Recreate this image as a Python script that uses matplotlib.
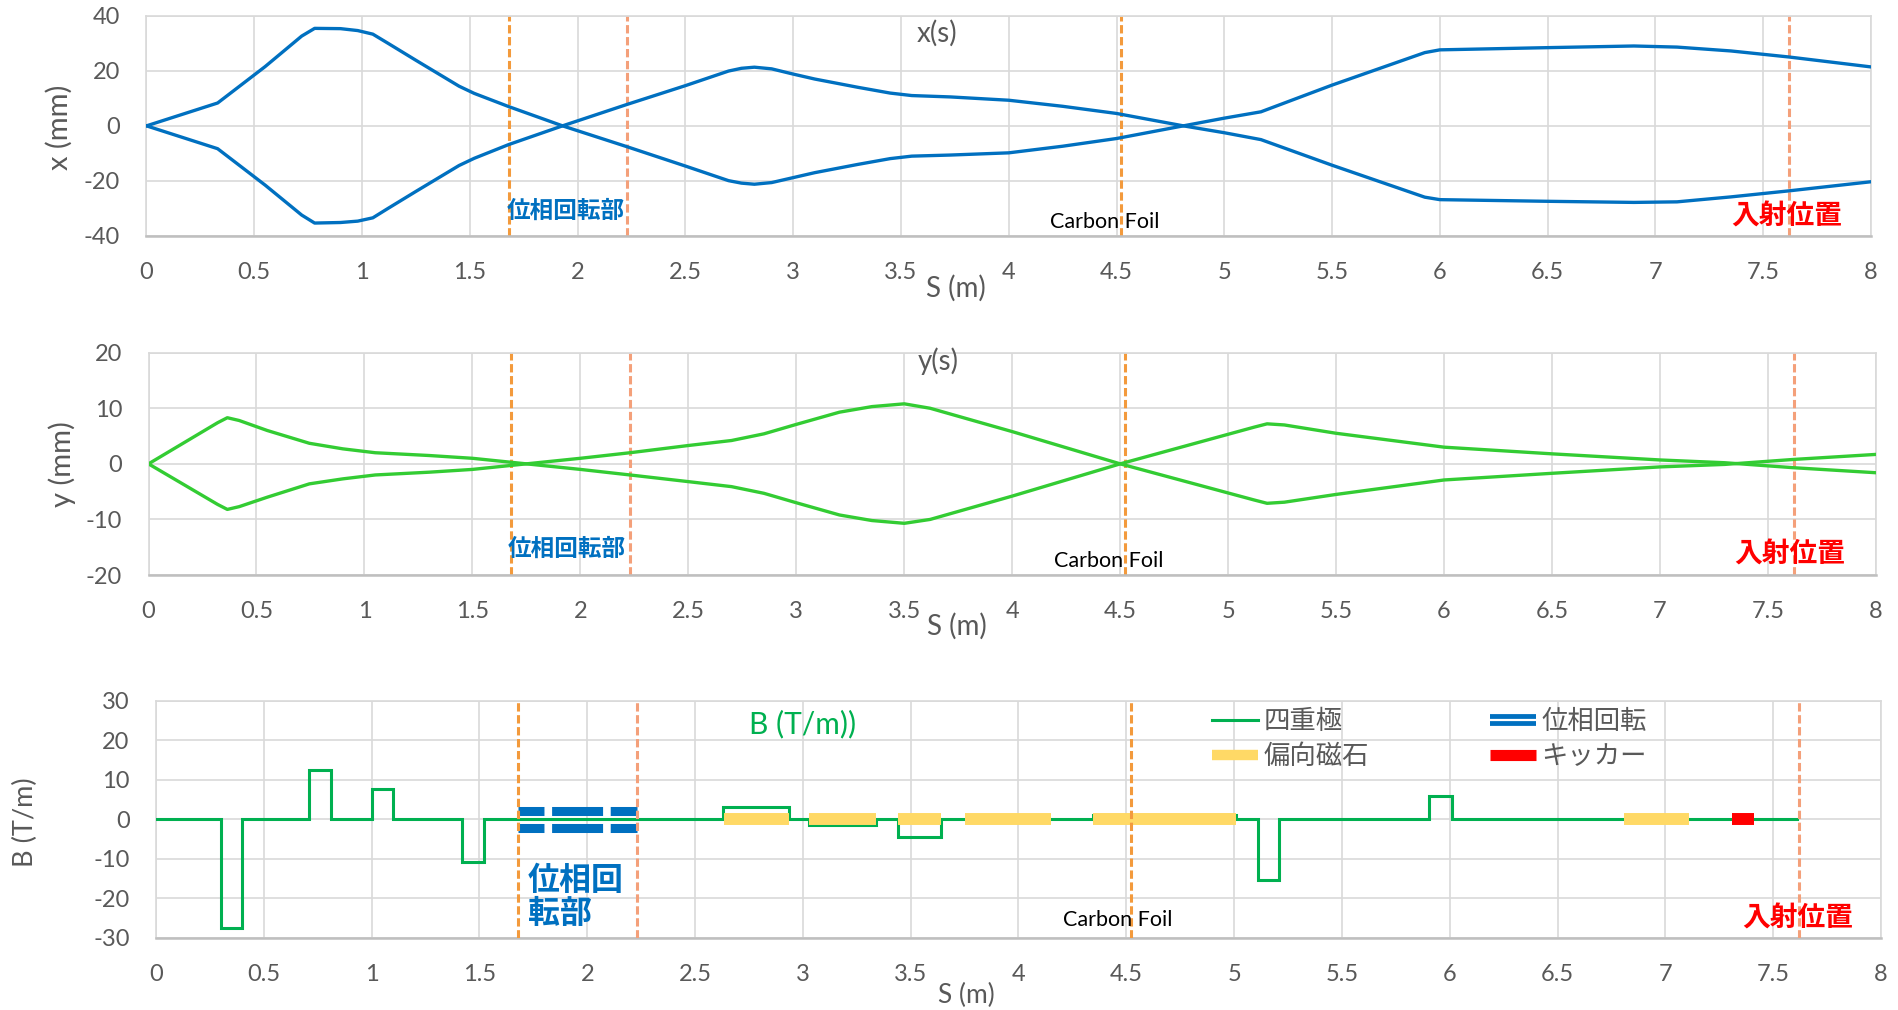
import matplotlib
matplotlib.use("Agg")
import matplotlib.pyplot as plt
from matplotlib.lines import Line2D
from matplotlib.legend_handler import HandlerTuple
from matplotlib.font_manager import FontProperties
from matplotlib.ticker import FuncFormatter, MultipleLocator
import matplotlib.transforms as mtransforms

plt.rcParams["font.family"] = ["Lato", "Noto Sans CJK JP", "DejaVu Sans"]
plt.rcParams["lines.scale_dashes"] = False

# ---------------- horizontal envelope x(s) [mm] ----------------
s_x = [0, 0.33, 0.55, 0.72, 0.78, 0.90, 0.98, 1.05, 1.12, 1.25, 1.45, 1.52, 1.68, 1.93,
       2.23, 2.50, 2.70, 2.76, 2.82, 2.90, 3.00, 3.10, 3.30, 3.45, 3.55, 3.73, 4.00,
       4.25, 4.50, 4.81, 5.00, 5.17, 5.50, 5.93, 6.00, 6.50, 6.90, 7.10, 7.35, 7.62,
       8.00]
x_a = [0, 8.3, 21.5, 32.6, 35.4, 35.3, 34.6, 33.3, 30.0, 23.8, 14.4, 11.8, 7.0, 0,
       -7.6, -14.6, -19.9, -20.8, -21.2, -20.6, -18.8, -17.0, -14.0, -11.9, -11.0, -10.6, -9.8,
       -7.4, -4.6, 0, 2.8, 5.1, 14.8, 26.6, 27.6, 28.4, 29.0, 28.6, 27.2, 25.0,
       21.4]
x_b = [0, -8.3, -21.5, -32.4, -35.3, -35.1, -34.6, -33.4, -30.0, -23.8, -14.4, -11.8, -6.8, 0,
       7.8, 14.6, 19.9, 20.9, 21.3, 20.7, 18.8, 17.0, 14.0, 11.9, 11.0, 10.5, 9.3,
       7.1, 4.5, 0, -2.5, -5.0, -14.3, -25.9, -26.8, -27.4, -27.8, -27.6, -25.8, -23.6,
       -20.3]

# ---------------- vertical envelope y(s) [mm] ----------------
s_y = [0, 0.32, 0.365, 0.42, 0.55, 0.745, 0.90, 1.05, 1.30, 1.50, 1.75, 2.00, 2.23,
       2.50, 2.70, 2.85, 3.00, 3.20, 3.35, 3.50, 3.62, 4.00, 4.50, 5.12, 5.18, 5.26,
       5.50, 6.00, 6.50, 7.00, 7.30, 7.62, 8.00]
y_c = [0, 7.4, 8.3, 7.8, 6.0, 3.7, 2.7, 2.0, 1.5, 1.0, 0, -1.0, -2.0,
       -3.2, -4.1, -5.3, -7.0, -9.2, -10.2, -10.7, -10.0, -5.8, 0, 6.6, 7.2, 7.0,
       5.5, 3.0, 1.8, 0.7, 0.2, -0.7, -1.6]
y_d = [0, -7.3, -8.2, -7.7, -6.0, -3.6, -2.7, -2.0, -1.5, -1.0, 0, 1.0, 2.0,
       3.3, 4.2, 5.4, 7.1, 9.3, 10.3, 10.8, 10.0, 5.8, 0, -6.5, -7.1, -6.9,
       -5.5, -2.9, -1.7, -0.55, -0.1, 0.8, 1.7]

# ---------------- lattice elements ----------------
quad_start = [0.30, 0.71, 1.00, 1.42, 2.63, 3.03, 3.44, 4.345, 5.11, 5.905]
quad_end = [0.40, 0.81, 1.10, 1.52, 2.935, 3.34, 3.64, 5.01, 5.21, 6.01]
quad_grad = [-27.5, 12.5, 7.8, -10.9, 3.0, -1.5, -4.5, 1.0, -15.3, 5.8]
line_end = 7.61

bend_start = [2.635, 3.03, 3.44, 3.75, 4.345, 6.81]
bend_end = [2.935, 3.34, 3.64, 4.15, 5.01, 7.11]

kicker_start = [7.31]
kicker_end = [7.41]

phase_start, phase_end = 1.68, 2.23
phase_offset = 2.2

# marker positions along s
marker_s = [1.68, 2.23, 4.52, 7.62]
marker_colors = ["#F39A3C", "#F4A07A", "#F39A3C", "#F4A07A"]

x_ticks = [0, 0.5, 1, 1.5, 2, 2.5, 3, 3.5, 4, 4.5, 5, 5.5, 6, 6.5, 7, 7.5, 8]

GRAY = "#595959"
GRID = "#D9D9D9"
BLUE = "#0070C0"
GREEN_Y = "#33CC33"
GREEN_B = "#00B050"
YELLOW = "#FFD966"
RED = "#FF0000"

W, H = 1899, 1010
fig = plt.figure(figsize=(W / 100, H / 100), dpi=100)


def px_axes(left, top, right, bottom):
    return fig.add_axes([left / W, 1 - bottom / H, (right - left) / W, (bottom - top) / H])


ax1 = px_axes(146.5, 15.7, 1871, 236)
ax2 = px_axes(148.5, 352.7, 1876, 575)
ax3 = px_axes(156, 700.7, 1881, 938)

fmt = FuncFormatter(lambda v, p: "{:g}".format(v))


def style(ax, ylim, ystep):
    ax.set_xlim(0, 8)
    ax.set_ylim(*ylim)
    ax.set_xticks(x_ticks)
    ax.yaxis.set_major_locator(MultipleLocator(ystep))
    ax.xaxis.set_major_formatter(fmt)
    ax.yaxis.set_major_formatter(fmt)
    ax.grid(True, color=GRID, lw=1.2, zorder=0)
    ax.set_axisbelow(True)
    for side in ("top", "left", "right"):
        ax.spines[side].set_color(GRID)
        ax.spines[side].set_linewidth(1.2)
    ax.spines["bottom"].set_color("#BFBFBF")
    ax.spines["bottom"].set_linewidth(1.8)
    ax.tick_params(length=0, pad=19, labelsize=17, labelcolor=GRAY)


def markers(ax, z):
    for s, c in zip(marker_s, marker_colors):
        ax.axvline(s, color=c, lw=2.2, linestyle=(0, (6, 2.6)), zorder=z)


def notes(ax, phase_xy, foil_xy, inj_xy, phase_text="位相回転部", phase_size=17,
          foil_size=15.5, inj_size=20):
    tr = mtransforms.blended_transform_factory(ax.transData, ax.transAxes)
    ax.text(*phase_xy, phase_text, transform=tr, ha="left", va="center",
            color=BLUE, fontsize=phase_size, fontweight="bold",
            family=["Noto Sans CJK JP"], linespacing=1.05, zorder=6)
    ax.text(*foil_xy, "Carbon Foil", transform=tr, ha="left", va="center",
            color="black", fontsize=foil_size, zorder=6)
    ax.text(*inj_xy, "入射位置", transform=tr, ha="left", va="center",
            color=RED, fontsize=inj_size, fontweight="bold",
            family=["Noto Sans CJK JP"], zorder=6)


def labels(ax, title, title_xy, title_size, xlab_xy, xlab_size, ylab, ylab_xy, ylab_size,
           title_color=GRAY):
    ax.text(*title_xy, title, transform=ax.transAxes, ha="center", va="center",
            color=title_color, fontsize=title_size)
    ax.set_xlabel("S (m)", fontsize=xlab_size, color=GRAY)
    ax.xaxis.label.set_va("center")
    ax.xaxis.set_label_coords(*xlab_xy)
    ax.set_ylabel(ylab, fontsize=ylab_size, color=GRAY)
    ax.yaxis.label.set_va("center")
    ax.yaxis.set_label_coords(*ylab_xy)


# ---------------- x(s) ----------------
style(ax1, (-40, 40), 20)
markers(ax1, 2)
ax1.plot(s_x, x_a, color=BLUE, lw=2.4, solid_joinstyle="round", zorder=3)
ax1.plot(s_x, x_b, color=BLUE, lw=2.4, solid_joinstyle="round", zorder=3)
labels(ax1, "x(s)", (0.4584, 0.9215), 20, (0.4694, -0.236), 20,
       "x (mm)", (-0.0507, 0.495), 21)
notes(ax1, (1.672, 0.1135), (4.19, 0.0635), (7.353, 0.086))

# ---------------- y(s) ----------------
style(ax2, (-20, 20), 10)
markers(ax2, 2)
ax2.plot(s_y, y_c, color=GREEN_Y, lw=2.4, solid_joinstyle="round", zorder=3)
ax2.plot(s_y, y_d, color=GREEN_Y, lw=2.4, solid_joinstyle="round", zorder=3)
labels(ax2, "y(s)", (0.457, 0.9627), 20, (0.468, -0.229), 20,
       "y (mm)", (-0.050, 0.4993), 21)
notes(ax2, (1.665, 0.117), (4.193, 0.065), (7.342, 0.09))

# ---------------- B(s) ----------------
style(ax3, (-30, 30), 10)

step_s, step_b = [0.0], [0.0]
for a, b, g in zip(quad_start, quad_end, quad_grad):
    step_s += [a, a, b, b]
    step_b += [0.0, g, g, 0.0]
step_s.append(line_end)
step_b.append(0.0)
ax3.plot(step_s, step_b, color=GREEN_B, lw=2.2, solid_joinstyle="miter", zorder=3)

for a, b in zip(bend_start, bend_end):
    ax3.plot([a, b], [0, 0], color=YELLOW, lw=8.6, solid_capstyle="butt", zorder=4)
for a, b in zip(kicker_start, kicker_end):
    ax3.plot([a, b], [0, 0], color=RED, lw=8.6, solid_capstyle="butt", zorder=4)
for off in (phase_offset, -phase_offset):
    ax3.plot([phase_start, phase_end], [off, off], color=BLUE, lw=6.5,
             linestyle=(18, (36.7, 5.5)), dash_capstyle="butt", zorder=4)

markers(ax3, 5)

labels(ax3, "B (T/m))", (0.375, 0.901), 21.5, (0.4696, -0.2405), 19,
       "B (T/m)", (-0.0754, 0.489), 19.5, title_color=GREEN_B)
notes(ax3, (1.725, 0.171), (4.207, 0.076), (7.356, 0.084),
      phase_text="位相回\n転部", phase_size=23)

h_quad = Line2D([], [], color=GREEN_B, lw=2.2)
h_bend = Line2D([], [], color=YELLOW, lw=7.5, solid_capstyle="butt")
h_phase = (Line2D([], [], color=BLUE, lw=8.5, solid_capstyle="butt"),
           Line2D([], [], color="white", lw=1.6, solid_capstyle="butt"))
h_kick = Line2D([], [], color=RED, lw=8.0, solid_capstyle="butt")
leg = ax3.legend([h_quad, h_bend, h_phase, h_kick],
                 ["四重極", "偏向磁石", "位相回転", "キッカー"],
                 handler_map={tuple: HandlerTuple(ndivide=1, pad=0)},
                 ncol=2, loc="upper left", bbox_to_anchor=(0.612, 0.968),
                 frameon=False, prop=FontProperties(family="Noto Sans CJK JP", size=19),
                 handlelength=1.75, handletextpad=0.2, columnspacing=4.6,
                 labelspacing=0.3, borderpad=0, borderaxespad=0)
for t in leg.get_texts():
    t.set_color(GRAY)

fig.savefig("out.png", dpi=100)
